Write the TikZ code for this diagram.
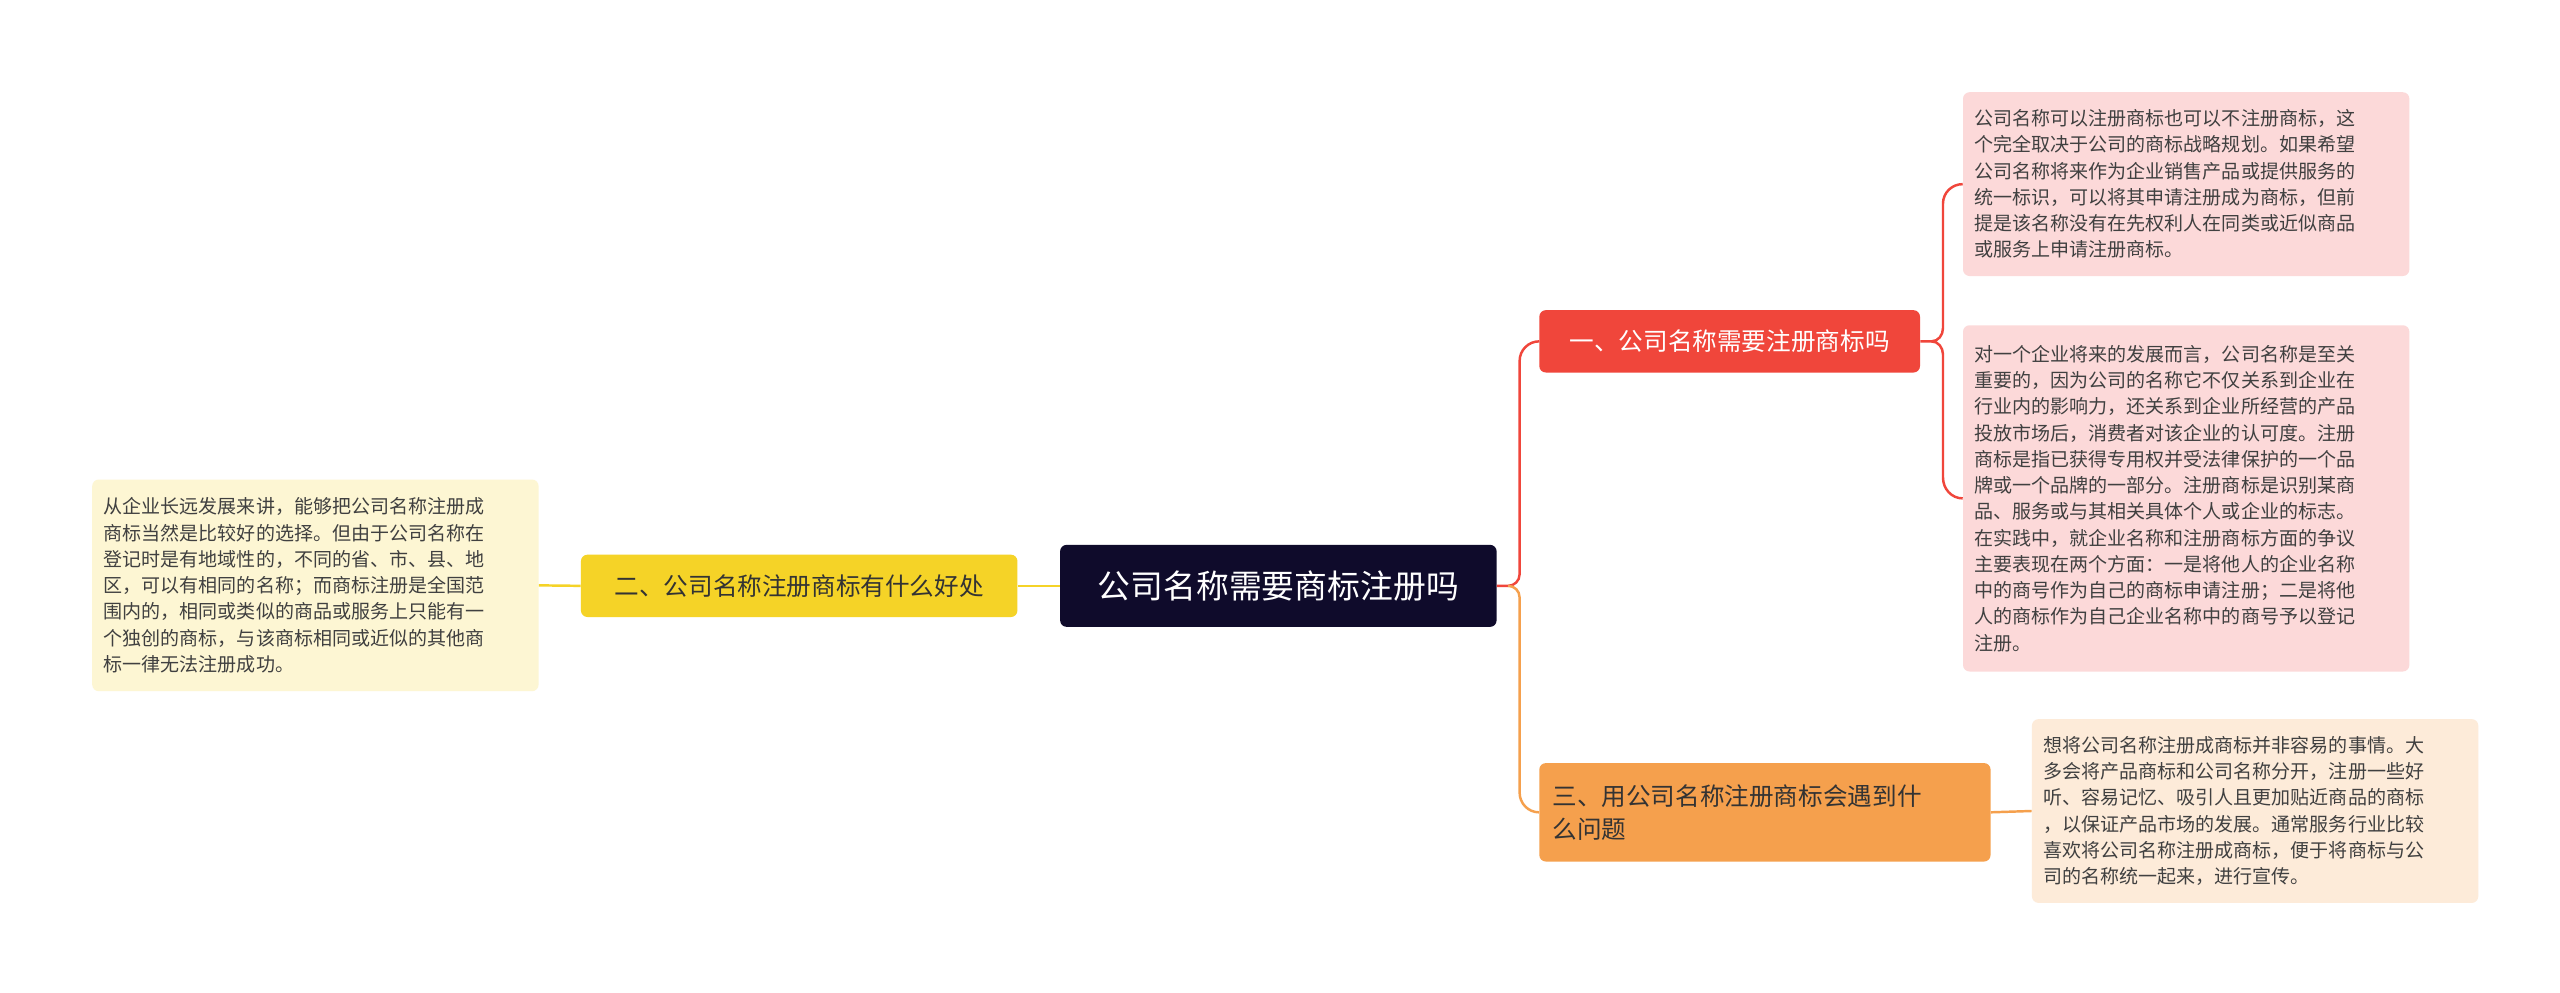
\documentclass[tikz,border=0pt]{standalone}
\usepackage{fontspec}
\setmainfont{Noto Sans CJK SC}
\begin{document}
\begin{tikzpicture}[x=1pt,y=-1pt,
  leaf/.style={rounded corners=4pt,inner xsep=7pt,inner ysep=5pt,align=left,font=\fontsize{11.6}{16}\selectfont,text=black!75,anchor=north west,text width=258pt},
  main/.style={rounded corners=4pt,align=left,font=\fontsize{15}{20}\selectfont,inner xsep=8pt}]
\useasboundingbox[fill=white] (0,0) rectangle (1560,605);
\definecolor{navy}{HTML}{0F0B2B}
\definecolor{cred}{HTML}{F0463B}
\definecolor{cyel}{HTML}{F5D327}
\definecolor{cora}{HTML}{F5A04D}
\definecolor{lpink}{HTML}{FCD9D9}
\definecolor{lyel}{HTML}{FDF6D3}
\definecolor{lora}{HTML}{FDEBD9}
\node[main,fill=navy,text=white,font=\fontsize{20}{24}\selectfont,minimum width=266pt,minimum height=50pt,align=center] (c) at (779,357) {公司名称需要商标注册吗};
\node[main,fill=cyel,text=black!80,minimum width=266pt,minimum height=38pt,align=center] (l) at (487,357) {二、公司名称注册商标有什么好处};
\node[main,fill=cred,text=white,minimum width=232pt,minimum height=38pt,align=center] (r1) at (1054,208) {一、公司名称需要注册商标吗};
\node[main,fill=cora,text=black!80,minimum width=275pt,minimum height=60pt,text width=259pt] (r3) at (1075.5,495) {三、用公司名称注册商标会遇到什\\么问题};
\node[leaf,fill=lyel,minimum height=129pt] (ll) at (56,292) {从企业长远发展来讲，能够把公司名称注册成\\商标当然是比较好的选择。但由于公司名称在\\登记时是有地域性的，不同的省、市、县、地\\区，可以有相同的名称；而商标注册是全国范\\围内的，相同或类似的商品或服务上只能有一\\个独创的商标，与该商标相同或近似的其他商\\标一律无法注册成功。};
\node[leaf,fill=lpink,minimum height=112pt] (a1) at (1196,56) {公司名称可以注册商标也可以不注册商标，这\\个完全取决于公司的商标战略规划。如果希望\\公司名称将来作为企业销售产品或提供服务的\\统一标识，可以将其申请注册成为商标，但前\\提是该名称没有在先权利人在同类或近似商品\\或服务上申请注册商标。};
\node[leaf,fill=lpink,minimum height=211pt] (a2) at (1196,198) {对一个企业将来的发展而言，公司名称是至关\\重要的，因为公司的名称它不仅关系到企业在\\行业内的影响力，还关系到企业所经营的产品\\投放市场后，消费者对该企业的认可度。注册\\商标是指已获得专用权并受法律保护的一个品\\牌或一个品牌的一部分。注册商标是识别某商\\品、服务或与其相关具体个人或企业的标志。\\在实践中，就企业名称和注册商标方面的争议\\主要表现在两个方面：一是将他人的企业名称\\中的商号作为自己的商标申请注册；二是将他\\人的商标作为自己企业名称中的商号予以登记\\注册。};
\node[leaf,fill=lora,minimum height=112pt] (a3) at (1238,438) {想将公司名称注册成商标并非容易的事情。大\\多会将产品商标和公司名称分开，注册一些好\\听、容易记忆、吸引人且更加贴近商品的商标\\，以保证产品市场的发展。通常服务行业比较\\喜欢将公司名称注册成商标，便于将商标与公\\司的名称统一起来，进行宣传。};
\draw[cyel,line width=1.5pt] (c.west) -- (l.east);
\draw[cyel,line width=1.5pt] (l.west) -- (ll.east);
\draw[cred,line width=1.5pt] (c.east) -- (919,357) to[out=0,in=-90] (926,350) -- (926,220) to[out=90,in=180] (938,208);
\draw[cora,line width=1.5pt] (919,357) to[out=0,in=90] (926,364) -- (926,483) to[out=-90,in=180] (r3.west);
\draw[cred,line width=1.5pt] (r1.east) -- (1177,208) to[out=0,in=-90] (1184,200) -- (1184,124) to[out=90,in=180] (a1.west);
\draw[cred,line width=1.5pt] (1177,208) to[out=0,in=90] (1184,216) -- (1184,291) to[out=-90,in=180] (a2.west);
\draw[cora,line width=1.5pt] (r3.east) -- (a3.west);
\end{tikzpicture}
\end{document}
